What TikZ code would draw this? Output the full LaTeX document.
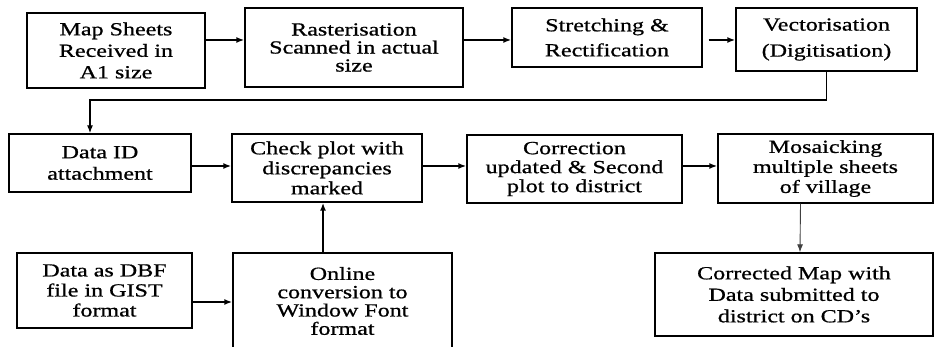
\documentclass[tikz,border=0pt]{standalone}
\usepackage{fontspec}
\setmainfont{Liberation Serif}[FakeStretch=1.3, FakeBold=0.8]
\usetikzlibrary{arrows.meta}
\newcommand{\flowfont}[1]{\fontsize{18.5}{#1}\selectfont}
\tikzset{
  box/.style args={#1 by #2}{
    draw, line width=1.4pt, align=center, inner sep=0pt,
    minimum width=#1, minimum height=#2, font=\flowfont{20}
  },
  flow/.style={line width=1.6pt, -{Latex[length=8pt,width=6pt]}},
  thin flow/.style={flow, line width=0.9pt, draw=black!75}
}

\begin{document}
\begin{tikzpicture}[x=1pt, y=-1pt]
  \useasboundingbox (0,0) rectangle (934,347);

  \node [box=178 by 75, font=\flowfont{21.5}] (sheets) at (116,50.5) {Map Sheets\\Received in\\A1 size};
  \node [box=218 by 79, font=\flowfont{18}] (raster) at (354,47.5) {Rasterisation\\Scanned in actual\\size};
  \node [box=190 by 59, font=\flowfont{25}] (stretch) at (607,37.5) {Stretching \&\\Rectification};
  \node [box=181 by 63, font=\flowfont{26}] (vector) at (826.5,39.5) {Vectorisation\\(Digitisation)};

  \node [box=182 by 58, font=\flowfont{21.5}] (dataid) at (100,163) {Data ID\\attachment};
  \node [box=190 by 68] (check) at (327,168) {Check plot with\\discrepancies\\marked};
  \node [box=215 by 68, font=\flowfont{19}] (correct) at (574.5,169) {Correction\\updated \& Second\\plot to district};
  \node [box=215 by 69] (mosaic) at (825.5,168.5) {Mosaicking\\multiple sheets\\of village};

  \node [box=175 by 75] (dbf) at (104.5,290.5) {Data as DBF\\file in GIST\\format};
  \node [box=219 by 96, font=\flowfont{18.3}] (online) at (342.5,301) {Online\\conversion to\\Window Font\\format};
  \node [box=278 by 83, font=\flowfont{21.5}] (final) at (794,294.5) {Corrected Map with\\Data submitted to\\district on CD’s};

  \coordinate (turn) at (0,100);

  \draw [flow] ([yshift=10.5pt]sheets.east) -- ([yshift=7.5pt]raster.west);
  \draw [flow] ([yshift=7.5pt]raster.east) -- ([yshift=-2.5pt]stretch.west);
  \draw [flow] ([xshift=6pt,yshift=-2.5pt]stretch.east) -- ([yshift=-0.5pt]vector.west);
  \draw [flow, line width=1.2pt] (vector.south) -- (vector.south |- turn) -| ([xshift=-10pt]dataid.north);

  \draw [flow] ([yshift=-3pt]dataid.east) -- ([yshift=2pt]check.west);
  \draw [flow] ([yshift=2pt]check.east) -- ([yshift=3pt]correct.west);
  \draw [flow] ([yshift=3pt]correct.east) -- ([yshift=2.5pt]mosaic.west);

  \draw [flow] ([yshift=-11.5pt]dbf.east) -- (online.west |- 0,302);
  \draw [flow] ([xshift=-19.5pt]online.north) -- ([xshift=-4pt]check.south);
  \draw [thin flow] ([xshift=-25pt]mosaic.south) -- ([xshift=6pt]final.north);
\end{tikzpicture}
\end{document}
